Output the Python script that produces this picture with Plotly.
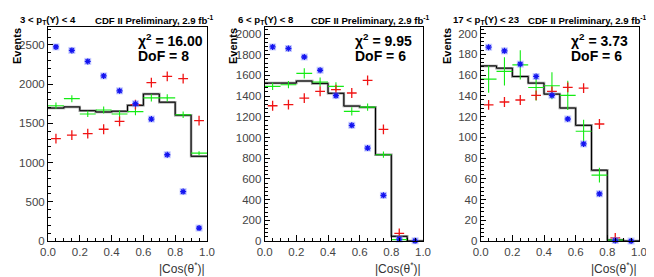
import plotly.graph_objects as go

# ---------------- data ----------------
bins = [0.05, 0.15, 0.25, 0.35, 0.45, 0.55, 0.65, 0.75, 0.85, 0.95]
bin_half = 0.05

pt_labels = ["3 < p<sub>T</sub>(Υ) < 4", "6 < p<sub>T</sub>(Υ) < 8", "17 < p<sub>T</sub>(Υ) < 23"]
chi2_labels = ["16.00", "9.95", "3.73"]
dof_labels = ["8", "6", "6"]

blue1 = [2475, 2430, 2290, 2105, 1915, 1750, 1555, 1100, 630, 165]
red1 = [1305, 1350, 1370, 1425, 1525, 1740, 2020, 2100, 2070, 1535]
green1 = [1725, 1815, 1620, 1670, 1620, 1650, 1825, 1825, 1610, 1120]
green1_err = [40, 45, 40, 45, 45, 45, 45, 45, 40, 25]
hist1 = [1695, 1710, 1662, 1645, 1655, 1730, 1875, 1770, 1605, 1080]

blue2 = [1875, 1860, 1778, 1650, 1405, 1118, 898, 441, 19, 2]
red2 = [1307, 1317, 1381, 1446, 1462, 1430, 1552, 1079, 74, None]
green2 = [1494, 1510, 1620, 1536, 1494, 1253, 1294, 834, 13, None]
green2_err = [35, 35, 50, 45, 40, 40, 35, 30, 5, 0]
hist2 = [1526, 1526, 1546, 1523, 1427, 1304, 1292, 834, 45, 0]

blue3 = [186.8, 183.3, 170.5, 158.6, 140.4, 117.6, 93.6, 45.5, 0.5, 0]
red3 = [131.3, 134, 135.9, 140.4, 144.2, 148, 147.4, 112.8, 3, None]
green3 = [156, 163.5, 169.8, 148, 149.6, 140.4, 105.8, 63.5, 1, None]
green3_err = [13, 13.7, 14, 12.5, 13, 14, 11, 7, 1, 0]
hist3 = [168.8, 166.6, 158.6, 152.2, 141.6, 128.2, 111.5, 68.3, 1, 0]

panels = [
    dict(blue=blue1, red=red1, green=green1, gerr=green1_err, hist=hist1),
    dict(blue=blue2, red=red2, green=green2, gerr=green2_err, hist=hist2),
    dict(blue=blue3, red=red3, green=green3, gerr=green3_err, hist=hist3),
]

# ---------------- layout geometry ----------------
W, H = 654, 277
x_dom = [(40 / W, 199 / W), (256.7 / W, 415 / W), (472.7 / W, 631 / W)]
y_dom = (1 - 233 / H, 1 - 19.3 / H)
y_rng = [2725, 2065, 206]
y_dtick = [500, 200, 20]
y_minor = [100, 40, 4]
hdr_left = [10, 228, 443]
hdr_cdf = [85, 301, 518]
events_x = [9, 225, 439]

FONT = "Liberation Sans"
GREEN = "rgb(20,235,20)"
RED = "rgb(240,20,20)"
BLUE = "rgb(20,20,240)"

fig = go.Figure()

for i, p in enumerate(panels):
    xa = "x" if i == 0 else f"x{i+1}"
    ya = "y" if i == 0 else f"y{i+1}"
    edges = [b - bin_half for b in bins] + [bins[-1] + bin_half]
    hy = p["hist"] + [p["hist"][-1]]
    # grey + black histograms
    fig.add_trace(go.Scatter(x=edges, y=hy, mode="lines", line=dict(shape="hv", color="rgb(150,150,150)", width=2.5),
                             xaxis=xa, yaxis=ya, showlegend=False, hoverinfo="skip"))
    fig.add_trace(go.Scatter(x=edges, y=hy, mode="lines", line=dict(shape="hv", color="black", width=1),
                             xaxis=xa, yaxis=ya, showlegend=False, hoverinfo="skip"))
    # green data with error bars
    fig.add_trace(go.Scatter(x=bins, y=p["green"], mode="markers", marker=dict(size=1, color=GREEN),
                             error_x=dict(type="constant", value=bin_half, color=GREEN, thickness=1.1, width=0),
                             error_y=dict(type="data", array=p["gerr"], color=GREEN, thickness=1.1, width=0),
                             xaxis=xa, yaxis=ya, showlegend=False, cliponaxis=False))
    # red crosses
    fig.add_trace(go.Scatter(x=bins, y=p["red"], mode="markers",
                             marker=dict(symbol="cross-thin-open", size=7, color=RED, line=dict(color=RED, width=1.3)),
                             xaxis=xa, yaxis=ya, showlegend=False, cliponaxis=False))
    # blue asterisks with light box
    fig.add_trace(go.Scatter(x=bins, y=p["blue"], mode="markers",
                             marker=dict(symbol="square", size=7, color="rgba(130,145,255,0.45)", line=dict(width=0)),
                             xaxis=xa, yaxis=ya, showlegend=False, cliponaxis=False))
    fig.add_trace(go.Scatter(x=bins, y=p["blue"], mode="markers",
                             marker=dict(symbol="asterisk-open", size=5, color=BLUE, line=dict(color=BLUE, width=1.3)),
                             xaxis=xa, yaxis=ya, showlegend=False, cliponaxis=False))

    axis_common = dict(showline=True, linecolor="black", linewidth=1, mirror=True, showgrid=False,
                       zeroline=False, ticks="inside", tickcolor="black", automargin=False,
                       tickfont=dict(family=FONT, size=11.5, color="#444"))
    fig.layout[("xaxis" if i == 0 else f"xaxis{i+1}")] = dict(
        domain=list(x_dom[i]), anchor=ya, range=[0, 1], dtick=0.2, tickformat=".1f", ticklen=6,
        minor=dict(dtick=0.05, ticklen=3, ticks="inside", tickcolor="black"), **axis_common)
    fig.layout[("yaxis" if i == 0 else f"yaxis{i+1}")] = dict(
        domain=list(y_dom), anchor=xa, range=[0, y_rng[i]], dtick=y_dtick[i], ticklen=5,
        minor=dict(dtick=y_minor[i], ticklen=3, ticks="inside", tickcolor="black"), **axis_common)

    xd = "x domain" if i == 0 else f"x{i+1} domain"
    yd = "y domain" if i == 0 else f"y{i+1} domain"
    ann = [
        dict(text=f"χ<sup>2</sup> = {chi2_labels[i]}", xref=xd, yref=yd, x=0.555, y=0.94,
             xanchor="left", yanchor="middle", showarrow=False,
             font=dict(family=FONT, size=14, color="black", weight="bold")),
        dict(text=f"DoF = {dof_labels[i]}", xref=xd, yref=yd, x=0.555, y=0.868,
             xanchor="left", yanchor="middle", showarrow=False,
             font=dict(family=FONT, size=14, color="black", weight="bold")),
        dict(text=pt_labels[i], xref="paper", yref="paper", x=hdr_left[i] / W, y=1 - 11.7 / H,
             xanchor="left", yanchor="middle", showarrow=False,
             font=dict(family=FONT, size=9.6, color="black", weight="bold")),
        dict(text="CDF II Preliminary, 2.9 fb<sup>-1</sup>", xref="paper", yref="paper", x=hdr_cdf[i] / W,
             y=1 - 11.7 / H, xanchor="left", yanchor="middle", showarrow=False,
             font=dict(family=FONT, size=9.6, color="black", weight="bold")),
        dict(text="Events", xref="paper", yref="paper", x=events_x[i] / W, y=1 - 38 / H, textangle=-90,
             xanchor="center", yanchor="middle", showarrow=False,
             font=dict(family=FONT, size=11, color="black", weight="bold")),
        dict(text="|Cos(θ<sup>*</sup>)|", xref=xd, yref="paper", x=1.0, y=1 - 260 / H,
             xanchor="right", yanchor="middle", showarrow=False,
             font=dict(family=FONT, size=12, color="#333")),
    ]
    for a in ann:
        fig.add_annotation(**a)

fig.update_layout(width=W, height=H, margin=dict(l=0, r=0, t=0, b=0, autoexpand=False),
                  paper_bgcolor="white", plot_bgcolor="white", showlegend=False)

fig.write_html("out.html")
